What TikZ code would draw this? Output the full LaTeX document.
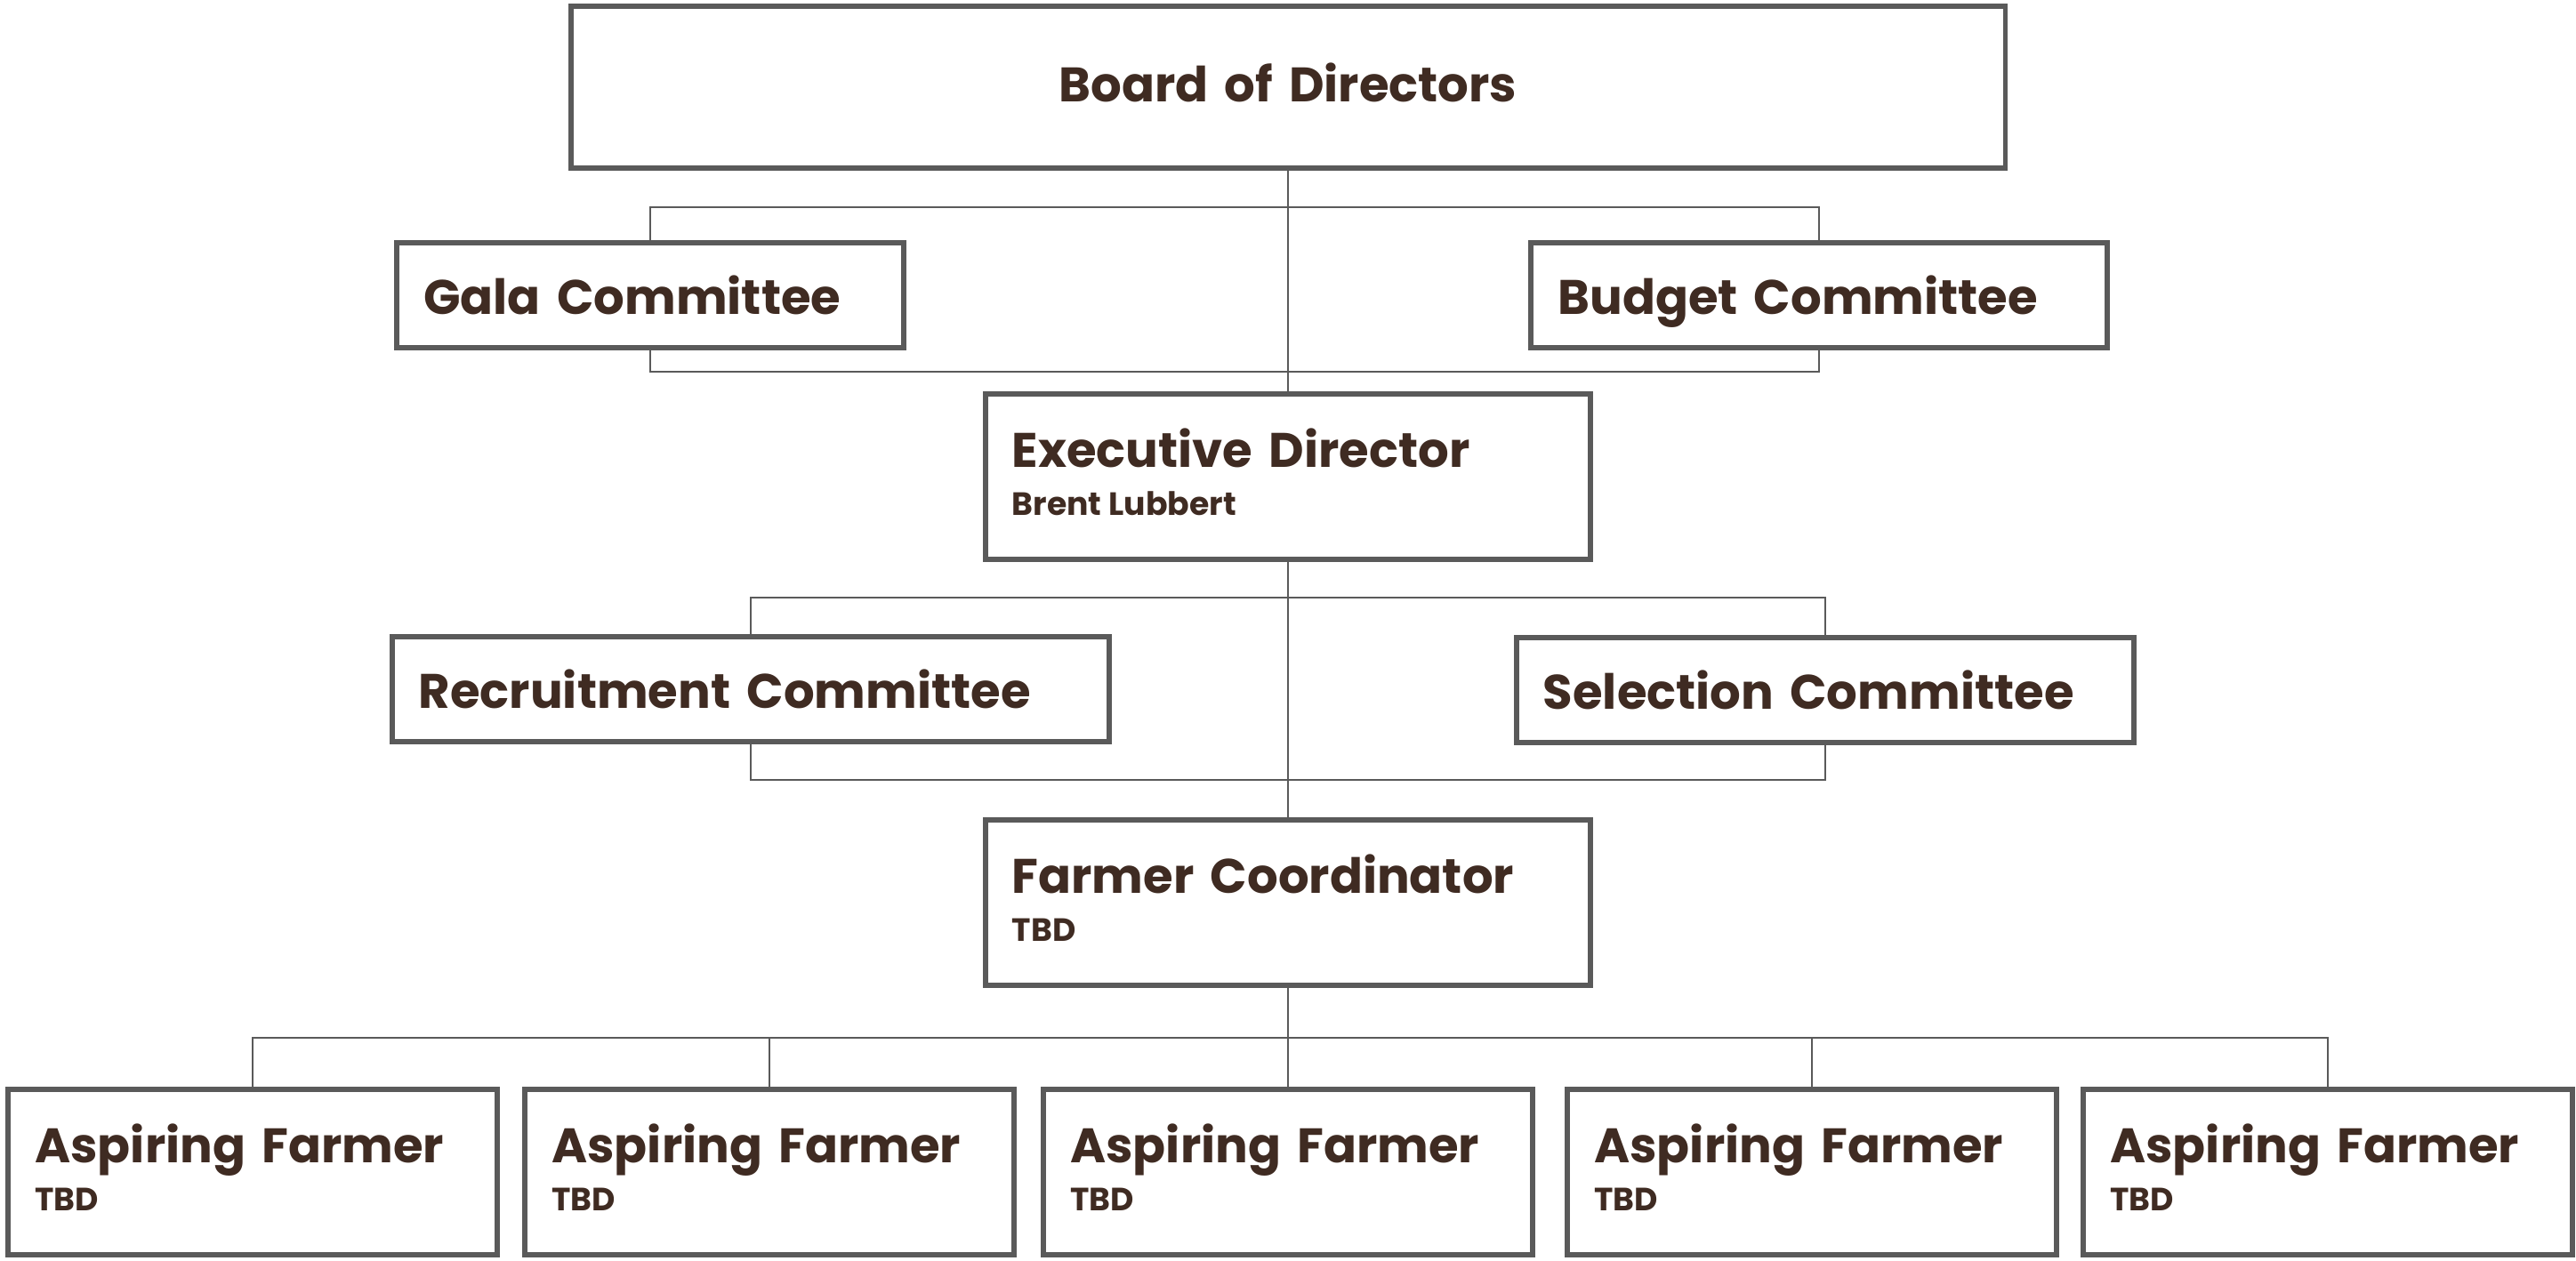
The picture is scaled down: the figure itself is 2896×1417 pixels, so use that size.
\documentclass[tikz,border=0pt]{standalone}
\usepackage{fontspec}
\setmainfont{Poppins}
\usepackage{tikz}

\definecolor{boxgray}{HTML}{5A5A5A}
\definecolor{inkbrown}{HTML}{3F2B22}
\newcommand{\titlefont}{\fontsize{15.5}{15.4}\selectfont\bfseries}
\newcommand{\subfont}{\fontsize{10.3}{11}\selectfont\bfseries\spaceskip=0.22em}
\newcommand{\lowstrut}{\rule[-3.1pt]{0pt}{0pt}}

\begin{document}
\begin{tikzpicture}[x=0.01cm, y=-0.01cm,
    orgbox/.style={draw=boxgray, line width=1.7pt, rectangle, text=inkbrown,
      font=\titlefont, inner xsep=0.3cm, inner ysep=0pt, align=left,
      text width=#1},
    tallbox/.style={orgbox=#1, minimum height=1.85cm},
    flatbox/.style={orgbox=#1, minimum height=1.17cm, text depth=0pt},
    link/.style={draw=boxgray, line width=0.8pt}]
    \useasboundingbox (0,0) rectangle (2896,1417);

    % Board and its committees
    \node[orgbox=15.52cm, align=center, minimum height=1.82cm] (board) at (1448,98) {Board of Directors\lowstrut};
    \node[flatbox=5.09cm] (gala) at (731,332) {Gala Committee};
    \node[flatbox=5.87cm] (budget) at (2045,332) {Budget Committee};

    % Executive director and his committees
    \node[tallbox=6.20cm] (exec) at (1448,536) {Executive Director\\{\subfont Brent Lubbert\lowstrut}};
    \node[flatbox=7.46cm] (recruit) at (844,775) {Recruitment Committee};
    \node[flatbox=6.34cm] (select) at (2052,776) {Selection Committee};

    % Farmer coordinator
    \node[tallbox=6.20cm] (coord) at (1448,1015) {Farmer Coordinator\\{\subfont TBD\lowstrut}};

    % Aspiring farmers
    \foreach \x [count=\i] in {284,865,1448,2037,2617}
        \node[tallbox=4.89cm] (farmer\i) at (\x,1318) {Aspiring Farmer\\{\subfont TBD\lowstrut}};

    % Connectors
    \coordinate (boardtop) at (1448,233);
    \coordinate (boardbot) at (1448,418);
    \coordinate (exectop) at (1448,672);
    \coordinate (execbot) at (1448,877);
    \coordinate (coordbar) at (1448,1167);
    \draw[link] (board.south) -- (exec.north);
    \draw[link] (exec.south) -- (coord.north);
    \draw[link] (coord.south) -- (coordbar);
    \draw[link] (gala.north) |- (boardtop) -| (budget.north);
    \draw[link] (gala.south) |- (boardbot) -| (budget.south);
    \draw[link] (recruit.north) |- (exectop) -| (select.north);
    \draw[link] (recruit.south) |- (execbot) -| (select.south);
    \draw[link] (farmer1.north) |- (coordbar) -| (farmer5.north);
    \foreach \i in {2,3,4}
        \draw[link] (farmer\i.north) -- (farmer\i.north |- coordbar);
\end{tikzpicture}
\end{document}
